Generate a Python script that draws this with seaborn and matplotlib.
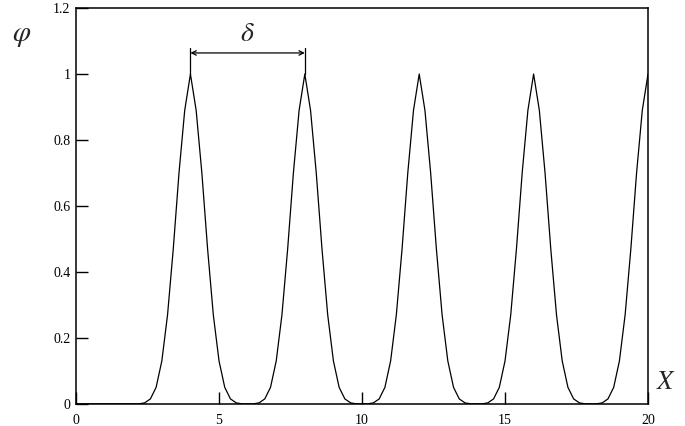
import matplotlib
matplotlib.use("Agg")
import matplotlib.pyplot as plt
import seaborn as sns
import numpy as np

# values
x_vals = [0.0, 0.2, 0.4, 0.6, 0.8, 1.0, 1.2, 1.4, 1.6, 1.8,
          2.0, 2.2, 2.4, 2.6, 2.8, 3.0, 3.2, 3.4, 3.6, 3.8,
          4.0, 4.2, 4.4, 4.6, 4.8, 5.0, 5.2, 5.4, 5.6, 5.8,
          6.0, 6.2, 6.4, 6.6, 6.8, 7.0, 7.2, 7.4, 7.6, 7.8,
          8.0, 8.2, 8.4, 8.6, 8.8, 9.0, 9.2, 9.4, 9.6, 9.8,
          10.0, 10.2, 10.4, 10.6, 10.8, 11.0, 11.2, 11.4, 11.6, 11.8,
          12.0, 12.2, 12.4, 12.6, 12.8, 13.0, 13.2, 13.4, 13.6, 13.8,
          14.0, 14.2, 14.4, 14.6, 14.8, 15.0, 15.2, 15.4, 15.6, 15.8,
          16.0, 16.2, 16.4, 16.6, 16.8, 17.0, 17.2, 17.4, 17.6, 17.8,
          18.0, 18.2, 18.4, 18.6, 18.8, 19.0, 19.2, 19.4, 19.6, 19.8,
          20.0]
phi_vals = [0, 0, 0, 0, 0, 0, 0, 0, 0, 0,
            0, 0, 0.003, 0.015, 0.05, 0.13, 0.27, 0.47, 0.70, 0.89,
            1.0, 0.89, 0.70, 0.47, 0.27, 0.13, 0.05, 0.015, 0.003, 0,
            0, 0, 0.003, 0.015, 0.05, 0.13, 0.27, 0.47, 0.70, 0.89,
            1.0, 0.89, 0.70, 0.47, 0.27, 0.13, 0.05, 0.015, 0.003, 0,
            0, 0, 0.003, 0.015, 0.05, 0.13, 0.27, 0.47, 0.70, 0.89,
            1.0, 0.89, 0.70, 0.47, 0.27, 0.13, 0.05, 0.015, 0.003, 0,
            0, 0, 0.003, 0.015, 0.05, 0.13, 0.27, 0.47, 0.70, 0.89,
            1.0, 0.89, 0.70, 0.47, 0.27, 0.13, 0.05, 0.015, 0.003, 0,
            0, 0, 0.003, 0.015, 0.05, 0.13, 0.27, 0.47, 0.70, 0.89,
            1.0]
x_ticks = [0, 5, 10, 15, 20]
x_tick_labels = ["0", "5", "10", "15", "20"]
y_ticks = [0, 0.2, 0.4, 0.6, 0.8, 1.0, 1.2]
y_tick_labels = ["0", "0.2", "0.4", "0.6", "0.8", "1", "1.2"]
delta_start = 4
delta_end = 8

sns.set_style("white")
plt.rcParams['font.family'] = ['Liberation Serif', 'DejaVu Serif']
plt.rcParams['mathtext.fontset'] = 'stix'

fig = plt.figure(figsize=(6.85, 4.26), dpi=100)
ax = fig.add_axes([0.111, 0.052, 0.835, 0.929])

sns.lineplot(x=x_vals, y=phi_vals, color='black', linewidth=0.9, ax=ax)

ax.set_xlim(0, 20)
ax.set_ylim(0, 1.2)
ax.set_xticks(x_ticks)
ax.set_xticklabels(x_tick_labels)
ax.set_yticks(y_ticks)
ax.set_yticklabels(y_tick_labels)
ax.tick_params(direction='in', length=8.6, width=1, colors='black',
               labelsize=10, pad=4, bottom=True, left=True,
               top=False, right=False)
ax.tick_params(axis='x', pad=7)
for s in ax.spines.values():
    s.set_color('black')
    s.set_linewidth(1.1)

# dimension marker for the period delta
ax.plot([delta_start, delta_start], [1.0, 1.08], color='black', lw=0.9)
ax.plot([delta_end, delta_end], [1.0, 1.08], color='black', lw=0.9)
ax.annotate('', xy=(delta_start, 1.064), xytext=(delta_end, 1.064),
            arrowprops=dict(arrowstyle='<->', color='black', lw=0.9,
                            shrinkA=0, shrinkB=0, mutation_scale=8))
ax.text((delta_start + delta_end) / 2, 1.12, r'$\delta$', fontsize=20,
        ha='center', va='center')

fig.text(0.032, 0.915, r'$\varphi$', fontsize=21, ha='center', va='center')
fig.text(0.972, 0.1, r'$X$', fontsize=19, ha='center', va='center')

fig.savefig('out.png', dpi=100)
